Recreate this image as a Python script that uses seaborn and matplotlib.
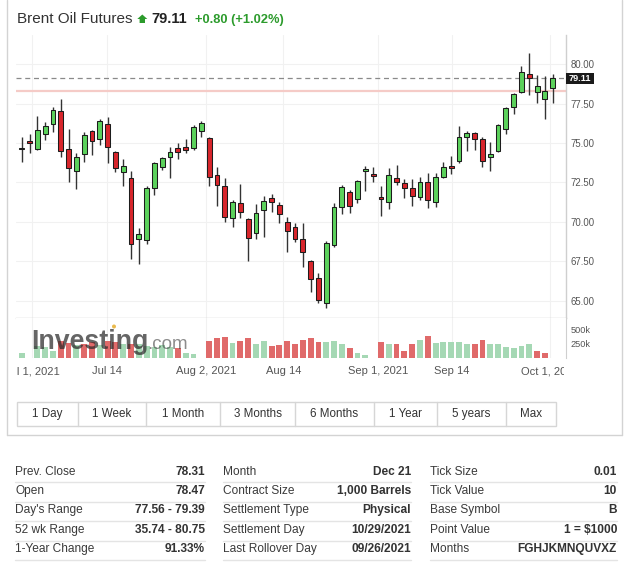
import numpy as np
import pandas as pd
import matplotlib
matplotlib.use("Agg")
import matplotlib.pyplot as plt
import seaborn as sns
from matplotlib.patches import Rectangle, Polygon, Circle

# ---------------- data ----------------
opens = [74.62, 75.13, 74.60, 75.59, 76.22, 77.00, 74.64, 73.25, 74.32, 75.75,
         75.23, 76.20, 74.45, 73.14, 72.80, 68.92, 68.86, 72.17, 73.50, 74.09,
         74.66, 74.73, 74.71, 75.78, 75.30, 72.97, 72.28, 70.24, 71.18, 70.19,
         69.30, 70.76, 71.52, 71.06, 70.00, 69.70, 68.91, 67.53, 66.47, 64.89,
         68.57, 70.97, 71.90, 71.43, 73.23, 73.04, 71.58, 71.25, 72.80, 72.49,
         72.17, 71.60, 72.55, 71.29, 72.87, 73.54, 73.88, 75.40, 75.61, 75.23,
         74.13, 74.49, 75.87, 77.25, 78.21, 79.35, 78.21, 77.78, 78.47]
highs = [75.40, 75.55, 76.71, 76.35, 77.30, 77.80, 75.91, 74.35, 75.72, 75.82,
         76.52, 76.63, 74.52, 73.99, 73.25, 69.60, 72.30, 73.82, 74.13, 74.77,
         74.98, 75.23, 76.14, 76.37, 75.35, 73.50, 72.77, 71.39, 72.39, 70.25,
         71.14, 71.65, 71.77, 71.25, 70.34, 69.92, 69.94, 67.60, 66.79, 68.82,
         71.18, 72.34, 72.03, 72.66, 73.54, 73.50, 72.30, 73.40, 73.61, 72.70,
         72.70, 72.87, 73.08, 73.08, 73.82, 74.20, 76.08, 75.78, 75.72, 75.36,
         75.08, 76.20, 77.30, 78.18, 79.87, 80.68, 79.30, 79.24, 79.39]
lows = [73.82, 74.35, 74.56, 75.19, 75.68, 74.09, 72.55, 72.07, 73.82, 74.24,
        74.87, 73.75, 73.18, 72.30, 67.66, 67.34, 68.61, 71.69, 73.29, 72.77,
        73.97, 74.35, 74.56, 75.36, 72.28, 71.03, 70.02, 69.70, 70.24, 67.55,
        68.91, 69.03, 70.61, 69.92, 68.10, 68.75, 67.17, 65.59, 64.85, 64.54,
        68.44, 70.51, 70.59, 71.18, 71.98, 72.55, 70.38, 70.82, 72.34, 71.50,
        71.01, 71.39, 70.87, 70.97, 72.77, 73.04, 73.72, 74.49, 74.56, 73.50,
        73.23, 74.45, 75.55, 76.84, 78.14, 78.04, 77.51, 76.52, 77.56]
closes = [74.66, 74.98, 75.82, 76.10, 77.09, 74.49, 73.40, 74.09, 75.49, 75.11,
          76.41, 74.73, 73.40, 73.54, 68.59, 69.27, 72.15, 73.73, 74.03, 74.45,
          74.45, 74.56, 76.00, 76.29, 72.87, 72.34, 70.34, 71.25, 70.66, 69.01,
          70.57, 71.35, 71.25, 70.53, 69.41, 68.92, 68.12, 66.37, 65.06, 68.70,
          70.97, 72.24, 71.01, 72.61, 73.33, 72.91, 71.46, 72.97, 72.51, 72.17,
          71.65, 72.55, 71.39, 72.87, 73.46, 73.40, 75.40, 75.61, 75.27, 73.88,
          74.28, 76.14, 77.20, 78.08, 79.47, 79.09, 78.61, 78.31, 79.11]
volume_k = [93, 0, 204, 192, 122, 297, 262, 220, 250, 280,
            220, 297, 274, 239, 239, 250, 204, 192, 221, 192,
            170, 95, 75, 0, 290, 355, 365, 260, 300, 355,
            250, 300, 210, 230, 290, 240, 305, 345, 275, 270,
            300, 240, 170, 90, 60, 0, 280, 245, 235, 120,
            240, 305, 385, 255, 270, 280, 270, 235, 250, 315,
            240, 240, 190, 165, 200, 240, 120, 95, 0]
volume_dir = ["up", "up", "up", "up", "up", "down", "down", "up", "down", "down",
              "up", "down", "down", "up", "down", "up", "up", "up", "up", "up",
              "down", "up", "up", "up", "down", "down", "down", "up", "down", "down",
              "up", "up", "down", "down", "down", "down", "down", "down", "down", "up",
              "up", "up", "down", "up", "up", "up", "down", "up", "down", "down",
              "down", "up", "down", "up", "up", "up", "up", "up", "down", "down",
              "up", "up", "up", "up", "up", "up", "down", "down", "up"]
date_labels = ["Jul 1, 2021", "Jul 14", "Aug 2, 2021", "Aug 14", "Sep 1, 2021", "Sep 14", "Oct 1, 2021"]
date_pos = [1.35, 10.92, 23.6, 33.5, 45.6, 55.06, 67.6]
price_ticks = [65.0, 67.5, 70.0, 72.5, 75.0, 77.5, 80.0]
vol_ticks = [250, 500]
vol_tick_labels = ["250k", "500k"]
last_price = 79.11
prev_close = 78.31
title = "Brent Oil Futures"
price_text = "79.11"
change_text = "+0.80 (+1.02%)"
buttons = ["1 Day", "1 Week", "1 Month", "3 Months", "6 Months", "1 Year", "5 years", "Max"]
col1_labels = ["Prev. Close", "Open", "Day's Range", "52 wk Range", "1-Year Change"]
col1_values = ["78.31", "78.47", "77.56 - 79.39", "35.74 - 80.75", "91.33%"]
col2_labels = ["Month", "Contract Size", "Settlement Type", "Settlement Day", "Last Rollover Day"]
col2_values = ["Dec 21", "1,000 Barrels", "Physical", "10/29/2021", "09/26/2021"]
col3_labels = ["Tick Size", "Tick Value", "Base Symbol", "Point Value", "Months"]
col3_values = ["0.01", "10", "B", "1 = \\$1000", "FGHJKMNQUVXZ"]

# ---------------- style ----------------
sns.set_style("white")
plt.rcParams['font.family'] = ['Liberation Sans', 'DejaVu Sans']

W, H = 640, 575
fig = plt.figure(figsize=(6.4, 5.75), dpi=100, facecolor='white')

def fax(x0, y0, x1, y1):
    return [x0 / W, 1 - y1 / H, (x1 - x0) / W, (y1 - y0) / H]

n = len(opens)
idx = np.arange(n)
df = pd.DataFrame({"i": idx, "o": opens, "h": highs, "l": lows, "c": closes,
                   "v": volume_k, "dir": volume_dir})

x0, x1 = -0.73, 69.70
GREEN = '#5cd25c'
RED = '#d8262c'
GRID = '#f1f1f1'
SPINE = '#cfcfcf'

# price axes
ax = fig.add_axes(fax(16, 35, 566, 318))
ax.set_xlim(x0, x1)
ax.set_ylim(80 - (318 - 64) / 15.8, 80 + (64 - 35) / 15.8)
ax.set_yticks(price_ticks)
ax.set_yticklabels([f"{t:.2f}" for t in price_ticks])
ax.yaxis.tick_right()
ax.tick_params(axis='y', length=0, pad=3, labelsize=6.9, labelcolor='#555555')
ax.set_xticks(date_pos)
ax.tick_params(axis='x', length=0, labelbottom=False)
ax.grid(True, color=GRID, lw=0.8)
ax.set_axisbelow(True)
for s in ['left', 'top']:
    ax.spines[s].set_visible(False)
for s in ['bottom', 'right']:
    ax.spines[s].set_color(SPINE)
    ax.spines[s].set_linewidth(1.0)

ax.axhline(prev_close, color='#f5cbc7', lw=1.6, zorder=1)
ax.axhline(last_price, color='#8a8a8a', lw=0.9, ls=(0, (4, 3)), zorder=1)

ax.vlines(df["i"], df["l"], df["h"], color='#333333', lw=1.0, zorder=2)
body_bottom = np.minimum(df["o"], df["c"])
body_h = np.maximum(np.abs(df["c"] - df["o"]), 0.09)
body_col = [GREEN if c >= o else RED for o, c in zip(df["o"], df["c"])]
ax.bar(df["i"], body_h, bottom=body_bottom, width=0.62, color=body_col,
       edgecolor='#1c1c1c', linewidth=0.75, zorder=3)

# volume axes
axv = fig.add_axes(fax(16, 318, 566, 358))
sns.barplot(data=df, x="i", y="v", hue="dir", palette={"up": '#a5d8b4', "down": '#e06a6a'},
            native_scale=True, width=0.75, dodge=False, errorbar=None, legend=False,
            saturation=1, linewidth=0, ax=axv)
axv.set_xlim(x0, x1)
axv.set_ylim(0, 39.7 / 14.3 * 250)
axv.set_yticks(vol_ticks)
axv.set_yticklabels(vol_tick_labels)
axv.yaxis.tick_right()
axv.tick_params(axis='y', length=0, pad=3, labelsize=6.6, labelcolor='#555555')
axv.set_xticks(date_pos)
axv.tick_params(axis='x', length=0, labelbottom=False)
axv.grid(True, axis='x', color=GRID, lw=0.8)
axv.set_axisbelow(True)
axv.set_xlabel("")
axv.set_ylabel("")
for s in ['left', 'top', 'bottom']:
    axv.spines[s].set_visible(False)
axv.spines['right'].set_color(SPINE)

# date labels (clipped to plot width)
axd = fig.add_axes(fax(17, 362, 564, 381))
axd.set_xlim(x0 + 1 / 7.81, x1 - 2 / 7.81)
axd.set_ylim(0, 1)
axd.axis('off')
for p, lab in zip(date_pos, date_labels):
    axd.text(p, 0.5, lab, ha='center', va='center', fontsize=8, color='#555555', clip_on=True)

# overlay in pixel coords
ov = fig.add_axes([0, 0, 1, 1], zorder=10)
ov.set_xlim(0, W)
ov.set_ylim(H, 0)
ov.axis('off')
ov.patch.set_alpha(0)

# widget borders
bc = '#d3d3d3'
ov.plot([7, 7], [0, 435], color=bc, lw=1)
ov.plot([622, 622], [0, 435], color=bc, lw=1)
ov.plot([7, 622], [435, 435], color=bc, lw=1)

# header
ov.text(17, 23, title, fontsize=11, color='#333333', va='baseline', ha='left')
ov.add_patch(Polygon([(142.3, 14.5), (147.3, 19), (145, 19), (145, 23), (139.6, 23),
                      (139.6, 19), (137.3, 19)], closed=True, color='#2c9b2c', lw=0))
ov.text(151, 23, price_text, fontsize=10.5, fontweight='bold', color='#222222', va='baseline')
ov.text(195, 23, change_text, fontsize=9.3, fontweight='bold', color='#2c9b2c', va='baseline')

# last price label
ov.add_patch(Rectangle((566, 73), 28, 11, color='#1a1a1a', lw=0))
ov.text(580, 78.6, price_text, fontsize=6.6, fontweight='bold', color='white', ha='center', va='center')

# watermark
ov.text(31, 349, "Investing", fontsize=19.3, fontweight='bold', color='#2a2a2a', alpha=0.72, va='baseline')
ov.text(147.5, 349, ".com", fontsize=13.5, color='#404040', alpha=0.6, va='baseline')
ov.add_patch(Circle((114, 326.5), 2.0, color='#e8b33a', alpha=0.9, lw=0))

# buttons
seps = [17, 77.5, 146.2, 219.9, 295.1, 374, 436.6, 505.7, 556]
ov.add_patch(Rectangle((17, 402), 539, 24, fill=False, edgecolor='#d6d6d6', lw=1))
for s in seps[1:-1]:
    ov.plot([s, s], [402, 426], color='#d6d6d6', lw=1)
for a, b, lab in zip(seps[:-1], seps[1:], buttons):
    ov.text((a + b) / 2, 414, lab, fontsize=8.4, color='#333333', ha='center', va='center')

# table
row_y = [472, 491, 510, 530, 549]
sep_y = [482, 501.5, 521, 540.5, 560]
cols = [(15, 205, col1_labels, col1_values),
        (223, 411, col2_labels, col2_values),
        (430, 617, col3_labels, col3_values)]
for xl, xr, labs, vals in cols:
    for y, sy, lab, val in zip(row_y, sep_y, labs, vals):
        ov.text(xl, y, lab, fontsize=8.6, color='#3a3a3a', ha='left', va='center')
        ov.text(xr, y, val, fontsize=8.6, fontweight='bold', color='#333333', ha='right', va='center')
        ov.plot([xl, xr], [sy, sy], color='#e4e4e4', lw=1)

fig.savefig("out.png", dpi=100, facecolor='white')
